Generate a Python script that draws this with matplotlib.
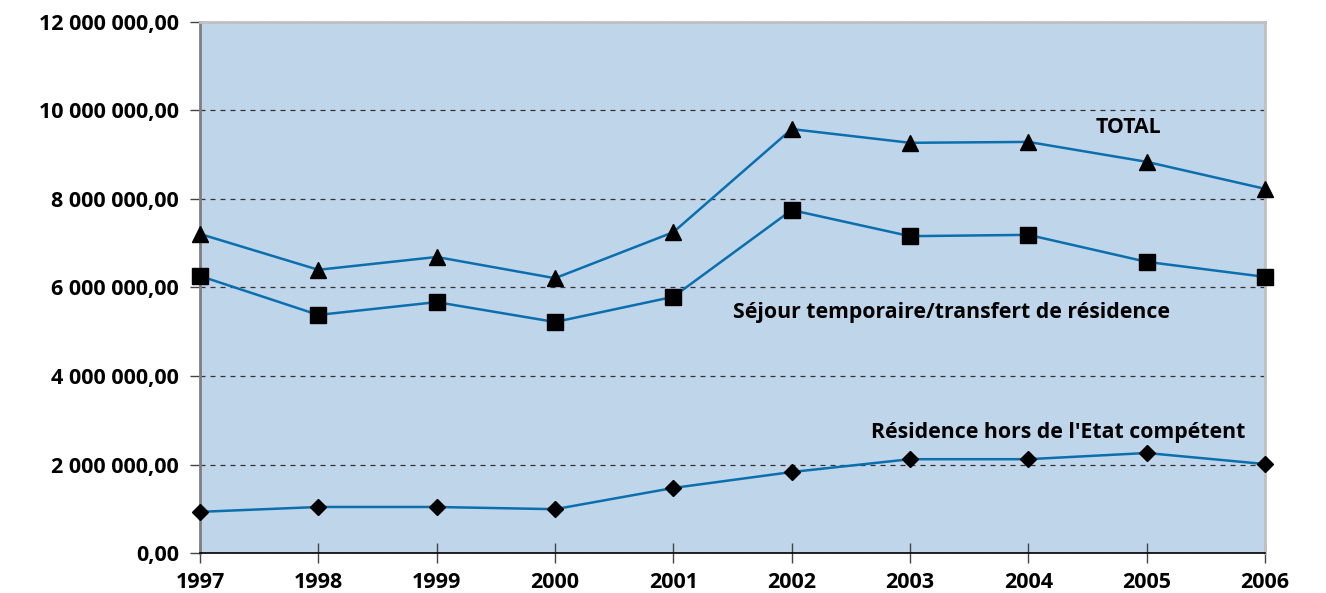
import matplotlib
matplotlib.use("Agg")
import matplotlib.pyplot as plt
from matplotlib.ticker import FuncFormatter

years = [1997, 1998, 1999, 2000, 2001, 2002, 2003, 2004, 2005, 2006]
total = [7.21e6, 6.40e6, 6.69e6, 6.21e6, 7.25e6, 9.58e6, 9.27e6, 9.29e6, 8.84e6, 8.23e6]
sejour = [6.26e6, 5.38e6, 5.67e6, 5.22e6, 5.79e6, 7.75e6, 7.16e6, 7.19e6, 6.58e6, 6.24e6]
residence = [0.93e6, 1.04e6, 1.04e6, 0.99e6, 1.47e6, 1.83e6, 2.12e6, 2.12e6, 2.26e6, 2.01e6]
yticks = [0, 2e6, 4e6, 6e6, 8e6, 10e6, 12e6]
labels = {"total": "TOTAL",
          "sejour": "Séjour temporaire/transfert de résidence",
          "residence": "Résidence hors de l'Etat compétent"}

plt.rcParams['font.family'] = ['Open Sans', 'DejaVu Sans']
plt.rcParams['font.weight'] = 'bold'

fig = plt.figure(figsize=(13.26, 5.93), dpi=100)
ax = fig.add_axes([200/1326, 40/593, 1065/1326, 531/593])
ax.set_facecolor('#BFD5EA')

line_c = '#0B6FAE'
ax.plot(years, total, color=line_c, lw=1.8, marker='^', ms=12, mfc='black', mec='black', zorder=3, clip_on=False)
ax.plot(years, sejour, color=line_c, lw=1.8, marker='s', ms=11.5, mfc='black', mec='black', zorder=3, clip_on=False)
ax.plot(years, residence, color=line_c, lw=1.8, marker='D', ms=8.5, mfc='black', mec='black', zorder=3, clip_on=False)

ax.set_xlim(years[0], years[-1])
ax.set_ylim(0, 12e6)
ax.set_xticks(years)
ax.set_yticks(yticks)
ax.yaxis.set_major_formatter(FuncFormatter(lambda v, p: f"{v:,.2f}".replace(",", " ").replace(".", ",")))
ax.grid(axis='y', color='#333333', linestyle=(0, (4, 4)), lw=0.9)
for gl in ax.get_ygridlines():
    gl.set_zorder(1)

ax.tick_params(axis='x', direction='inout', length=14, width=1, colors='#444444', labelcolor='black', labelsize=15.5, pad=7)
ax.tick_params(axis='y', direction='out', length=7, width=1, colors='#444444', labelcolor='black', labelsize=15.5, pad=8)
for lab in ax.get_xticklabels() + ax.get_yticklabels():
    lab.set_fontweight('bold')

ax.spines['left'].set_color('#7f7f7f')
ax.spines['left'].set_linewidth(2)
ax.spines['bottom'].set_color('black')
ax.spines['bottom'].set_linewidth(1.2)
ax.spines['top'].set_color('#c0c0c0')
ax.spines['top'].set_linewidth(2)
ax.spines['right'].set_color('#c0c0c0')
ax.spines['right'].set_linewidth(2)

ax.text(2004.85, 9.62e6, labels["total"], ha='center', va='center', fontsize=15.3, fontweight='bold')
ax.text(2003.35, 5.43e6, labels["sejour"], ha='center', va='center', fontsize=15.3, fontweight='bold')
ax.text(2004.25, 2.73e6, labels["residence"], ha='center', va='center', fontsize=15.3, fontweight='bold')

fig.savefig('out.png', dpi=100)
